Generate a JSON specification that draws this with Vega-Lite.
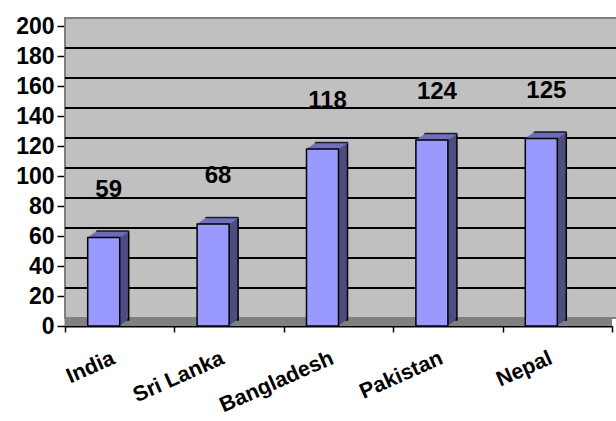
{
  "$schema": "https://vega.github.io/schema/vega-lite/v6.json",
  "width": 547,
  "height": 300,
  "autosize": {"type": "none"},
  "padding": {"left": 65, "top": 26, "right": 4, "bottom": 95},
  "background": "white",
  "config": {
    "view": {"fill": "#C0C0C0", "stroke": null},
    "font": "Liberation Sans",
    "axisY": {
      "values": [0, 20, 40, 60, 80, 100, 120, 140, 160, 180, 200],
      "grid": false, "domainColor": "black", "domainWidth": 1.5,
      "tickColor": "black", "tickWidth": 1.5, "tickSize": 8, "labelPadding": 3,
      "labelFont": "Liberation Sans", "labelFontWeight": "bold", "labelFontSize": 23, "labelColor": "black"
    },
    "axisX": {
      "grid": false, "domainColor": "black", "domainWidth": 2,
      "tickColor": "black", "tickWidth": 1.5, "tickSize": 6, "tickBand": "extent",
      "labelAngle": -24, "labelAlign": "right", "labelBaseline": "top",
      "labelOffset": -11, "labelPadding": 15,
      "labelFont": "Liberation Sans", "labelFontWeight": "bold", "labelFontSize": 21.5, "labelColor": "black"
    }
  },
  "datasets": {
    "rates": [
      {"country": "India", "value": 59},
      {"country": "Sri Lanka", "value": 68},
      {"country": "Bangladesh", "value": 118},
      {"country": "Pakistan", "value": 124},
      {"country": "Nepal", "value": 125}
    ],
    "grid": [
      {"g": 20}, {"g": 40}, {"g": 60}, {"g": 80}, {"g": 100},
      {"g": 120}, {"g": 140}, {"g": 160}, {"g": 180}
    ]
  },
  "layer": [
    {
      "data": {"values": [{}]},
      "mark": {"type": "rect", "fill": "#C0C0C0", "stroke": "#808080", "strokeWidth": 2, "xOffset": 11, "x2Offset": 11, "yOffset": -8, "y2Offset": -8},
      "encoding": {
        "y": {"datum": 200, "type": "quantitative", "scale": {"domain": [0, 200], "nice": false}, "title": null},
        "y2": {"datum": 0}
      }
    },
    {
      "data": {"values": [{}]},
      "mark": {"type": "rect", "fill": "#808080", "x2Offset": 11, "y2Offset": -8},
      "encoding": {
        "y": {"datum": 0, "type": "quantitative", "scale": {"domain": [0, 200], "nice": false}, "title": null},
        "y2": {"datum": 0}
      }
    },
    {
      "data": {"name": "grid"},
      "mark": {"type": "rule", "color": "black", "strokeWidth": 1.8, "xOffset": 11, "x2Offset": 11, "yOffset": -8},
      "encoding": {
        "y": {"field": "g", "type": "quantitative", "scale": {"domain": [0, 200], "nice": false}, "title": null}
      }
    },
    {
      "data": {"name": "rates"},
      "layer": [
        {"mark": {"type": "bar", "size": 32, "fill": "#4D4D80", "stroke": "black", "strokeWidth": 1.5, "xOffset": -7, "yOffset": -6, "y2Offset": -6}, "encoding": {"y2": {"datum": 0}}},
        {"mark": {"type": "tick", "size": 32, "thickness": 2, "color": "#7373C4", "xOffset": -7, "yOffset": -6}},
        {"mark": {"type": "bar", "size": 32, "fill": "#4D4D80", "xOffset": -8.5, "yOffset": -5, "y2Offset": -5}, "encoding": {"y2": {"datum": 0}}},
        {"mark": {"type": "tick", "size": 32, "thickness": 2, "color": "#7373C4", "xOffset": -8.5, "yOffset": -5}},
        {"mark": {"type": "bar", "size": 32, "fill": "#4D4D80", "xOffset": -10, "yOffset": -4, "y2Offset": -4}, "encoding": {"y2": {"datum": 0}}},
        {"mark": {"type": "tick", "size": 32, "thickness": 2, "color": "#7373C4", "xOffset": -10, "yOffset": -4}},
        {"mark": {"type": "bar", "size": 32, "fill": "#4D4D80", "xOffset": -11.5, "yOffset": -3, "y2Offset": -3}, "encoding": {"y2": {"datum": 0}}},
        {"mark": {"type": "tick", "size": 32, "thickness": 2, "color": "#7373C4", "xOffset": -11.5, "yOffset": -3}},
        {"mark": {"type": "bar", "size": 32, "fill": "#4D4D80", "xOffset": -13, "yOffset": -2, "y2Offset": -2}, "encoding": {"y2": {"datum": 0}}},
        {"mark": {"type": "tick", "size": 32, "thickness": 2, "color": "#7373C4", "xOffset": -13, "yOffset": -2}},
        {"mark": {"type": "bar", "size": 32, "fill": "#4D4D80", "xOffset": -14.5, "yOffset": -1, "y2Offset": -1}, "encoding": {"y2": {"datum": 0}}},
        {"mark": {"type": "tick", "size": 32, "thickness": 2, "color": "#7373C4", "xOffset": -14.5, "yOffset": -1}},
        {"mark": {"type": "tick", "size": 32, "thickness": 1.5, "color": "black", "xOffset": -7, "yOffset": -6.5}},
        {
          "mark": {"type": "bar", "size": 32, "fill": "#9999FF", "stroke": "black", "strokeWidth": 1.5, "xOffset": -16},
          "encoding": {"y2": {"datum": 0}}
        },
        {
          "mark": {"type": "text", "font": "Liberation Sans", "fontWeight": "bold", "fontSize": 24, "color": "black", "baseline": "middle", "align": "center", "dy": -48, "xOffset": -11},
          "encoding": {"text": {"field": "value", "type": "quantitative"}}
        }
      ],
      "encoding": {
        "x": {"field": "country", "type": "nominal", "sort": null, "scale": {"paddingInner": 0, "paddingOuter": 0}, "title": null},
        "y": {"field": "value", "type": "quantitative", "scale": {"domain": [0, 200], "nice": false}, "title": null}
      }
    }
  ]
}
